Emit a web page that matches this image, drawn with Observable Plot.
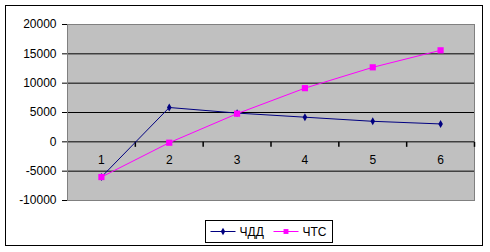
<!DOCTYPE html>
<html><head><meta charset="utf-8">
<script src="https://cdn.jsdelivr.net/npm/d3@7"></script>
<script src="https://cdn.jsdelivr.net/npm/@observablehq/plot@0.6"></script>
<style>body{margin:0;background:#fff}</style>
</head><body><div id="chart"></div>
<script>
const periods = [1, 2, 3, 4, 5, 6];
const chdd = [-6000, 5850, 4900, 4200, 3500, 3050];
const chts = [-6000, -150, 4800, 9150, 12700, 15600];
const seriesNames = ["ЧДД", "ЧТС"];
const seriesColors = ["#000080", "#FF00FF"];
const yTicks = [-10000, -5000, 0, 5000, 10000, 15000, 20000];
const gridValues = [-5000, 0, 5000, 10000, 15000];
const categoryBounds = [1.5, 2.5, 3.5, 4.5, 5.5, 6.5];

const rows = [];
periods.forEach((p, i) => {
  rows.push({period: p, value: chdd[i], series: seriesNames[0]});
  rows.push({period: p, value: chts[i], series: seriesNames[1]});
});
const s0 = rows.filter(d => d.series === seriesNames[0]);
const s1 = rows.filter(d => d.series === seriesNames[1]);

const tickDown = {draw(ctx) { ctx.moveTo(0, 0); ctx.lineTo(0, 5); }};

const font = "'Liberation Sans', Arial, sans-serif";
const plot = Plot.plot({
  width: 490, height: 252,
  marginLeft: 67, marginRight: 16, marginTop: 24, marginBottom: 52,
  style: {fontFamily: font, fontSize: "12px", color: "#000", background: "#fff"},
  x: {domain: [0.5, 6.5], axis: null},
  y: {domain: [-10000, 20000], axis: null},
  marks: [
    Plot.frame({fill: "#C0C0C0", stroke: "none"}),
    Plot.ruleY(gridValues, {stroke: "#000", strokeWidth: 1}),
    Plot.frame({stroke: "#808080", strokeWidth: 1}),
    Plot.dot(categoryBounds, {x: d => d, y: 0, symbol: tickDown, stroke: "#000", fill: "none", r: 3}),
    Plot.text(periods, {x: d => d, y: 0, dy: 18, text: d => String(d), fill: "#000", fontSize: 12}),
    Plot.axisY({ticks: yTicks, tickSize: 5, tickPadding: 6, tickFormat: d => String(d), fontSize: 12, stroke: "#000", label: null}),
    Plot.line(s0, {x: "period", y: "value", stroke: seriesColors[0], strokeWidth: 1}),
    Plot.line(s1, {x: "period", y: "value", stroke: seriesColors[1], strokeWidth: 1}),
    Plot.dot(s0, {x: "period", y: "value", symbol: "diamond", fill: seriesColors[0], r: 2.4}),
    Plot.dot(s1, {x: "period", y: "value", symbol: "square", fill: seriesColors[1], r: 3.5})
  ]
});
document.getElementById("chart").appendChild(plot);

// chart border and legend
const svg = d3.select(plot);
svg.append("rect").attr("x", 5.5).attr("y", 5.5).attr("width", 477).attr("height", 240)
  .attr("fill", "none").attr("stroke", "#000").attr("stroke-width", 1);

const lg = svg.append("g").attr("transform", "translate(205.5,220.5)");
lg.append("rect").attr("width", 127).attr("height", 22).attr("fill", "#fff").attr("stroke", "#000");
const itemX = [5, 68];
const symbols = [d3.symbolDiamond, d3.symbolSquare];
const symSizes = [2.3 * 2.3 * Math.PI, 3.3 * 3.3 * Math.PI * 0.7];
seriesNames.forEach((name, i) => {
  const g = lg.append("g").attr("transform", `translate(${itemX[i]},11)`);
  g.append("line").attr("x1", 0).attr("x2", 25).attr("stroke", seriesColors[i]);
  g.append("path").attr("transform", "translate(12.5,0)")
    .attr("d", d3.symbol(symbols[i], symSizes[i])()).attr("fill", seriesColors[i]);
  g.append("text").attr("x", 29).attr("y", 0).attr("dy", "0.35em").attr("text-anchor", "start")
    .attr("font-family", font).attr("font-size", 12).attr("fill", "#000").text(name);
});
</script>
</body></html>
